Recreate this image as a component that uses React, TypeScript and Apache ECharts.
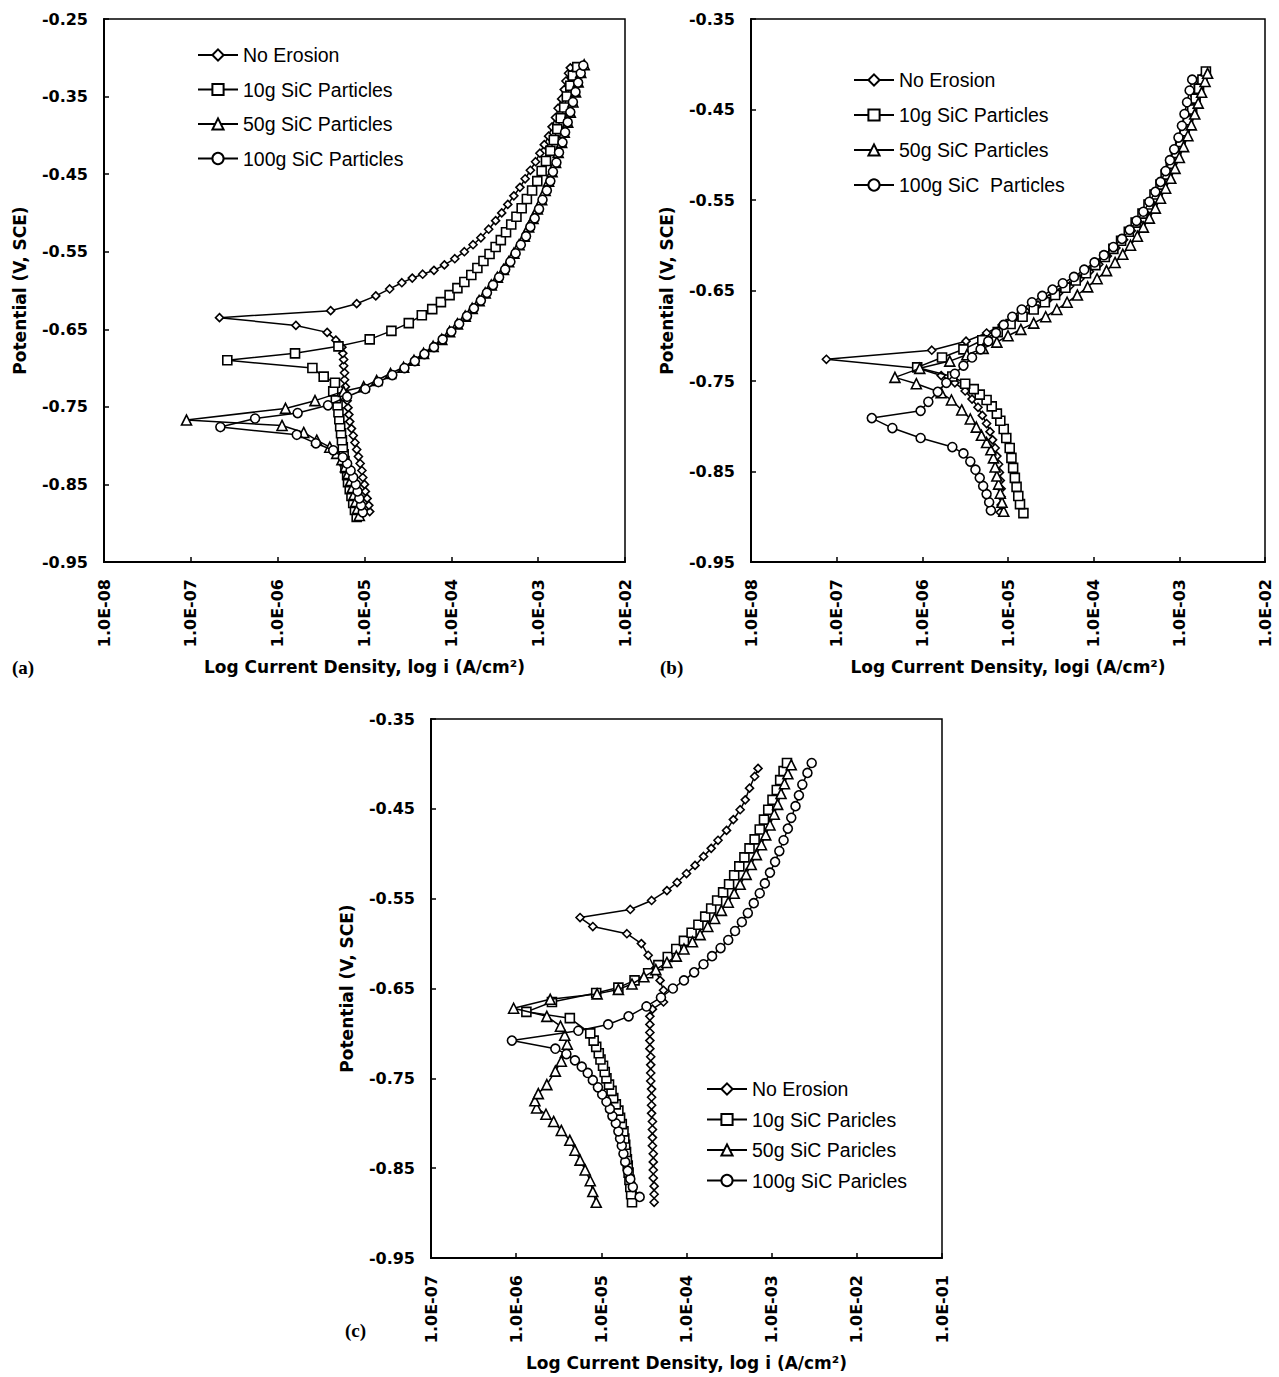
import React, { useEffect, useRef } from 'react';
import * as echarts from 'echarts';

type Pt = [number, number];

// ---- axis ranges and labels ----
const xRangeA = [-8, -2];
const xRangeB = [-8, -2];
const xRangeC = [-7, -1];
const yRangeA = [-0.95, -0.25];
const yRangeB = [-0.95, -0.35];
const yRangeC = [-0.95, -0.35];

const namesA = ['No Erosion', '10g SiC Particles', '50g SiC Particles', '100g SiC Particles'];
const namesB = ['No Erosion', '10g SiC Particles', '50g SiC Particles', '100g SiC  Particles'];
const namesC = ['No Erosion', '10g SiC Paricles', '50g SiC Paricles', '100g SiC Paricles'];

const xTitleA = 'Log Current Density, log i (A/cm²)';
const xTitleB = 'Log Current Density, logi (A/cm²)';
const xTitleC = 'Log Current Density, log i (A/cm²)';
const yTitle = 'Potential (V, SCE)';

// ---- data: [log i (A/cm2), potential (V, SCE)] in scan order ----
// Panel (a)
const noErosionA: Pt[] = [[-4.94,-0.885],[-4.95,-0.877],[-4.97,-0.868],[-4.99,-0.859],[-5.00,-0.850],[-5.02,-0.841],[-5.03,-0.832],[-5.05,-0.823],[-5.07,-0.814],[-5.09,-0.805],[-5.11,-0.796],[-5.13,-0.787],[-5.15,-0.778],[-5.17,-0.769],[-5.18,-0.760],[-5.19,-0.751],[-5.20,-0.742],[-5.21,-0.733],[-5.22,-0.724],[-5.23,-0.715],[-5.23,-0.706],[-5.24,-0.697],[-5.24,-0.689],[-5.25,-0.681],[-5.26,-0.673],[-5.33,-0.664],[-5.43,-0.654],[-5.79,-0.645],[-6.67,-0.635],[-5.39,-0.626],[-5.09,-0.617],[-4.87,-0.607],[-4.71,-0.598],[-4.57,-0.590],[-4.45,-0.584],[-4.33,-0.579],[-4.20,-0.574],[-4.08,-0.567],[-3.96,-0.559],[-3.85,-0.550],[-3.75,-0.541],[-3.66,-0.532],[-3.57,-0.521],[-3.49,-0.510],[-3.42,-0.500],[-3.35,-0.489],[-3.28,-0.478],[-3.21,-0.467],[-3.15,-0.456],[-3.09,-0.445],[-3.03,-0.434],[-2.98,-0.423],[-2.93,-0.412],[-2.88,-0.401],[-2.84,-0.389],[-2.80,-0.377],[-2.77,-0.365],[-2.73,-0.353],[-2.70,-0.341],[-2.68,-0.330],[-2.65,-0.320],[-2.63,-0.313]];
const sic10A: Pt[] = [[-5.09,-0.892],[-5.11,-0.883],[-5.13,-0.874],[-5.15,-0.865],[-5.17,-0.856],[-5.19,-0.847],[-5.20,-0.838],[-5.22,-0.829],[-5.23,-0.820],[-5.24,-0.811],[-5.25,-0.802],[-5.26,-0.793],[-5.27,-0.784],[-5.28,-0.775],[-5.29,-0.766],[-5.30,-0.757],[-5.31,-0.748],[-5.33,-0.739],[-5.36,-0.730],[-5.34,-0.719],[-5.47,-0.711],[-5.60,-0.700],[-6.58,-0.690],[-5.80,-0.681],[-5.30,-0.672],[-4.94,-0.663],[-4.69,-0.652],[-4.49,-0.642],[-4.34,-0.632],[-4.22,-0.624],[-4.12,-0.615],[-4.02,-0.606],[-3.93,-0.597],[-3.85,-0.589],[-3.77,-0.580],[-3.70,-0.571],[-3.63,-0.562],[-3.56,-0.553],[-3.49,-0.544],[-3.43,-0.535],[-3.37,-0.525],[-3.31,-0.515],[-3.25,-0.505],[-3.19,-0.494],[-3.13,-0.482],[-3.07,-0.471],[-3.01,-0.459],[-2.96,-0.446],[-2.91,-0.433],[-2.86,-0.420],[-2.82,-0.406],[-2.78,-0.392],[-2.74,-0.378],[-2.70,-0.364],[-2.67,-0.350],[-2.63,-0.336],[-2.60,-0.323],[-2.55,-0.312]];
const sic50A: Pt[] = [[-5.06,-0.890],[-5.08,-0.881],[-5.10,-0.872],[-5.12,-0.863],[-5.14,-0.854],[-5.16,-0.845],[-5.19,-0.836],[-5.22,-0.827],[-5.26,-0.818],[-5.32,-0.810],[-5.40,-0.802],[-5.55,-0.793],[-5.70,-0.783],[-5.95,-0.774],[-7.05,-0.767],[-5.91,-0.752],[-5.57,-0.742],[-5.24,-0.730],[-5.01,-0.724],[-4.86,-0.716],[-4.70,-0.707],[-4.55,-0.699],[-4.43,-0.690],[-4.32,-0.681],[-4.21,-0.672],[-4.11,-0.663],[-4.02,-0.653],[-3.93,-0.643],[-3.84,-0.633],[-3.76,-0.623],[-3.68,-0.613],[-3.61,-0.603],[-3.54,-0.593],[-3.47,-0.583],[-3.40,-0.573],[-3.34,-0.563],[-3.28,-0.552],[-3.22,-0.541],[-3.16,-0.530],[-3.11,-0.518],[-3.06,-0.507],[-3.01,-0.495],[-2.96,-0.483],[-2.92,-0.471],[-2.88,-0.459],[-2.84,-0.447],[-2.80,-0.435],[-2.77,-0.422],[-2.73,-0.409],[-2.70,-0.396],[-2.66,-0.383],[-2.63,-0.370],[-2.60,-0.357],[-2.57,-0.344],[-2.54,-0.331],[-2.51,-0.319],[-2.47,-0.309]];
const sic100A: Pt[] = [[-5.02,-0.886],[-5.04,-0.877],[-5.06,-0.868],[-5.08,-0.859],[-5.10,-0.850],[-5.13,-0.841],[-5.16,-0.832],[-5.20,-0.823],[-5.25,-0.815],[-5.36,-0.806],[-5.56,-0.797],[-5.78,-0.786],[-6.66,-0.776],[-6.26,-0.765],[-5.77,-0.758],[-5.42,-0.748],[-5.20,-0.737],[-4.99,-0.727],[-4.84,-0.718],[-4.68,-0.709],[-4.54,-0.700],[-4.42,-0.691],[-4.31,-0.682],[-4.20,-0.673],[-4.10,-0.663],[-4.00,-0.653],[-3.91,-0.643],[-3.82,-0.633],[-3.74,-0.623],[-3.66,-0.613],[-3.59,-0.603],[-3.52,-0.593],[-3.45,-0.583],[-3.38,-0.573],[-3.32,-0.563],[-3.26,-0.552],[-3.20,-0.541],[-3.14,-0.530],[-3.09,-0.518],[-3.04,-0.507],[-2.99,-0.495],[-2.95,-0.483],[-2.90,-0.471],[-2.86,-0.459],[-2.83,-0.447],[-2.79,-0.435],[-2.76,-0.422],[-2.72,-0.409],[-2.69,-0.396],[-2.66,-0.383],[-2.63,-0.370],[-2.60,-0.357],[-2.57,-0.344],[-2.54,-0.332],[-2.51,-0.320],[-2.48,-0.310]];

// Panel (b)
const noErosionB: Pt[] = [[-5.09,-0.895],[-5.08,-0.887],[-5.08,-0.878],[-5.08,-0.869],[-5.09,-0.860],[-5.10,-0.851],[-5.11,-0.842],[-5.13,-0.833],[-5.15,-0.824],[-5.18,-0.815],[-5.21,-0.806],[-5.25,-0.797],[-5.30,-0.788],[-5.35,-0.779],[-5.42,-0.770],[-5.50,-0.761],[-5.62,-0.752],[-5.78,-0.744],[-6.05,-0.736],[-7.12,-0.726],[-5.89,-0.716],[-5.49,-0.706],[-5.25,-0.697],[-5.07,-0.688],[-4.93,-0.680],[-4.79,-0.673],[-4.65,-0.666],[-4.52,-0.659],[-4.40,-0.652],[-4.28,-0.645],[-4.16,-0.637],[-4.05,-0.629],[-3.94,-0.621],[-3.84,-0.612],[-3.74,-0.603],[-3.65,-0.594],[-3.56,-0.584],[-3.48,-0.574],[-3.40,-0.564],[-3.33,-0.553],[-3.26,-0.542],[-3.20,-0.531],[-3.14,-0.519],[-3.08,-0.507],[-3.03,-0.495],[-2.98,-0.483],[-2.94,-0.471],[-2.90,-0.459],[-2.86,-0.447],[-2.82,-0.435],[-2.78,-0.424],[-2.74,-0.415]];
const sic10B: Pt[] = [[-4.82,-0.896],[-4.86,-0.886],[-4.88,-0.877],[-4.90,-0.867],[-4.92,-0.857],[-4.94,-0.846],[-4.96,-0.835],[-4.98,-0.824],[-5.02,-0.813],[-5.05,-0.803],[-5.09,-0.794],[-5.13,-0.786],[-5.19,-0.778],[-5.25,-0.771],[-5.33,-0.765],[-5.40,-0.759],[-5.50,-0.753],[-5.65,-0.745],[-6.06,-0.735],[-5.77,-0.724],[-5.52,-0.715],[-5.30,-0.705],[-5.12,-0.696],[-4.97,-0.687],[-4.83,-0.679],[-4.70,-0.671],[-4.57,-0.663],[-4.45,-0.655],[-4.33,-0.647],[-4.21,-0.639],[-4.09,-0.631],[-3.98,-0.622],[-3.87,-0.613],[-3.77,-0.604],[-3.68,-0.595],[-3.59,-0.585],[-3.51,-0.575],[-3.43,-0.565],[-3.36,-0.555],[-3.29,-0.544],[-3.22,-0.533],[-3.16,-0.522],[-3.10,-0.510],[-3.04,-0.498],[-2.99,-0.486],[-2.94,-0.474],[-2.90,-0.462],[-2.85,-0.450],[-2.81,-0.438],[-2.77,-0.427],[-2.73,-0.417],[-2.69,-0.408]];
const sic50B: Pt[] = [[-5.05,-0.894],[-5.07,-0.884],[-5.09,-0.874],[-5.11,-0.864],[-5.13,-0.855],[-5.15,-0.845],[-5.17,-0.835],[-5.20,-0.826],[-5.25,-0.818],[-5.31,-0.810],[-5.37,-0.801],[-5.44,-0.792],[-5.54,-0.782],[-5.66,-0.771],[-5.78,-0.763],[-6.07,-0.753],[-6.32,-0.746],[-6.03,-0.736],[-5.68,-0.728],[-5.48,-0.721],[-5.29,-0.714],[-5.13,-0.707],[-5.00,-0.700],[-4.85,-0.693],[-4.70,-0.686],[-4.56,-0.679],[-4.43,-0.671],[-4.31,-0.663],[-4.19,-0.655],[-4.07,-0.646],[-3.96,-0.637],[-3.85,-0.628],[-3.75,-0.619],[-3.66,-0.610],[-3.57,-0.600],[-3.49,-0.590],[-3.42,-0.580],[-3.35,-0.570],[-3.28,-0.559],[-3.22,-0.548],[-3.16,-0.537],[-3.10,-0.526],[-3.05,-0.515],[-3.00,-0.503],[-2.95,-0.491],[-2.90,-0.479],[-2.86,-0.467],[-2.82,-0.455],[-2.78,-0.443],[-2.74,-0.431],[-2.70,-0.419],[-2.67,-0.410]];
const sic100B: Pt[] = [[-5.20,-0.893],[-5.22,-0.884],[-5.25,-0.875],[-5.29,-0.866],[-5.33,-0.857],[-5.38,-0.848],[-5.44,-0.839],[-5.52,-0.830],[-5.65,-0.823],[-6.02,-0.813],[-6.35,-0.802],[-6.59,-0.791],[-6.02,-0.783],[-5.93,-0.773],[-5.82,-0.762],[-5.72,-0.752],[-5.62,-0.742],[-5.52,-0.733],[-5.42,-0.724],[-5.32,-0.715],[-5.23,-0.706],[-5.14,-0.697],[-5.05,-0.688],[-4.95,-0.679],[-4.84,-0.671],[-4.72,-0.663],[-4.60,-0.656],[-4.48,-0.649],[-4.36,-0.642],[-4.23,-0.635],[-4.11,-0.627],[-3.99,-0.619],[-3.88,-0.611],[-3.77,-0.602],[-3.67,-0.593],[-3.58,-0.583],[-3.50,-0.573],[-3.42,-0.563],[-3.35,-0.552],[-3.28,-0.541],[-3.22,-0.530],[-3.16,-0.518],[-3.11,-0.506],[-3.06,-0.494],[-3.01,-0.481],[-2.97,-0.468],[-2.94,-0.455],[-2.91,-0.442],[-2.88,-0.429],[-2.85,-0.417]];

// Panel (c)
const noErosionC: Pt[] = [[-4.38,-0.888],[-4.38,-0.879],[-4.38,-0.870],[-4.39,-0.861],[-4.39,-0.852],[-4.39,-0.843],[-4.39,-0.834],[-4.40,-0.825],[-4.40,-0.816],[-4.40,-0.807],[-4.40,-0.798],[-4.41,-0.789],[-4.41,-0.780],[-4.41,-0.771],[-4.41,-0.762],[-4.42,-0.753],[-4.42,-0.744],[-4.42,-0.735],[-4.42,-0.726],[-4.43,-0.717],[-4.43,-0.708],[-4.43,-0.699],[-4.43,-0.690],[-4.43,-0.681],[-4.40,-0.673],[-4.27,-0.665],[-4.27,-0.652],[-4.31,-0.641],[-4.37,-0.628],[-4.45,-0.613],[-4.53,-0.600],[-4.70,-0.589],[-5.10,-0.581],[-5.25,-0.571],[-4.66,-0.562],[-4.41,-0.552],[-4.23,-0.541],[-4.11,-0.532],[-4.00,-0.522],[-3.90,-0.513],[-3.80,-0.503],[-3.71,-0.494],[-3.63,-0.485],[-3.53,-0.474],[-3.45,-0.462],[-3.37,-0.451],[-3.31,-0.440],[-3.26,-0.427],[-3.20,-0.414],[-3.16,-0.405]];
const sic10C: Pt[] = [[-4.64,-0.888],[-4.65,-0.879],[-4.66,-0.871],[-4.67,-0.863],[-4.68,-0.855],[-4.69,-0.847],[-4.70,-0.840],[-4.71,-0.832],[-4.72,-0.824],[-4.73,-0.817],[-4.74,-0.809],[-4.76,-0.801],[-4.78,-0.794],[-4.80,-0.786],[-4.83,-0.779],[-4.86,-0.772],[-4.88,-0.764],[-4.91,-0.757],[-4.94,-0.750],[-4.96,-0.743],[-4.98,-0.736],[-5.01,-0.729],[-5.03,-0.722],[-5.06,-0.715],[-5.09,-0.708],[-5.13,-0.700],[-5.37,-0.683],[-5.88,-0.676],[-5.58,-0.665],[-5.06,-0.655],[-4.80,-0.649],[-4.61,-0.641],[-4.45,-0.633],[-4.33,-0.624],[-4.22,-0.615],[-4.12,-0.606],[-4.03,-0.597],[-3.94,-0.588],[-3.86,-0.579],[-3.78,-0.570],[-3.71,-0.561],[-3.64,-0.552],[-3.57,-0.543],[-3.50,-0.534],[-3.44,-0.524],[-3.38,-0.514],[-3.32,-0.504],[-3.26,-0.494],[-3.20,-0.484],[-3.14,-0.473],[-3.09,-0.462],[-3.04,-0.451],[-2.99,-0.440],[-2.94,-0.429],[-2.90,-0.418],[-2.86,-0.408],[-2.82,-0.399]];
const sic50C: Pt[] = [[-5.06,-0.888],[-5.10,-0.876],[-5.13,-0.864],[-5.19,-0.852],[-5.25,-0.841],[-5.31,-0.830],[-5.37,-0.819],[-5.47,-0.808],[-5.56,-0.798],[-5.65,-0.790],[-5.76,-0.783],[-5.78,-0.775],[-5.74,-0.767],[-5.64,-0.757],[-5.54,-0.742],[-5.47,-0.731],[-5.42,-0.721],[-5.40,-0.712],[-5.43,-0.702],[-5.48,-0.692],[-5.64,-0.681],[-6.03,-0.672],[-5.60,-0.662],[-5.05,-0.656],[-4.80,-0.651],[-4.64,-0.645],[-4.50,-0.637],[-4.36,-0.629],[-4.23,-0.621],[-4.12,-0.614],[-4.03,-0.606],[-3.93,-0.598],[-3.84,-0.590],[-3.75,-0.581],[-3.67,-0.572],[-3.59,-0.563],[-3.51,-0.554],[-3.44,-0.544],[-3.37,-0.534],[-3.30,-0.523],[-3.24,-0.512],[-3.18,-0.501],[-3.12,-0.490],[-3.07,-0.479],[-3.02,-0.468],[-2.97,-0.456],[-2.93,-0.445],[-2.89,-0.433],[-2.85,-0.422],[-2.81,-0.411],[-2.77,-0.401]];
const sic100C: Pt[] = [[-4.55,-0.882],[-4.63,-0.871],[-4.66,-0.862],[-4.69,-0.853],[-4.72,-0.843],[-4.74,-0.834],[-4.76,-0.825],[-4.78,-0.817],[-4.80,-0.809],[-4.83,-0.800],[-4.87,-0.792],[-4.90,-0.784],[-4.94,-0.776],[-4.99,-0.768],[-5.04,-0.760],[-5.10,-0.752],[-5.16,-0.744],[-5.23,-0.737],[-5.31,-0.730],[-5.41,-0.723],[-5.54,-0.717],[-6.05,-0.708],[-5.27,-0.697],[-4.92,-0.690],[-4.68,-0.681],[-4.47,-0.670],[-4.30,-0.660],[-4.16,-0.650],[-4.03,-0.641],[-3.91,-0.632],[-3.80,-0.623],[-3.70,-0.614],[-3.60,-0.605],[-3.51,-0.596],[-3.43,-0.586],[-3.35,-0.576],[-3.28,-0.566],[-3.21,-0.555],[-3.14,-0.544],[-3.08,-0.533],[-3.02,-0.521],[-2.96,-0.509],[-2.91,-0.497],[-2.86,-0.485],[-2.81,-0.472],[-2.77,-0.460],[-2.72,-0.447],[-2.68,-0.435],[-2.64,-0.423],[-2.58,-0.410],[-2.53,-0.399]];

const symbols = ['diamond', 'rect', 'triangle', 'circle'];
const symbolSizes = [8, 9, 10, 9];

const fmtX = (v: number) => {
  const e = Math.round(v);
  return '1.0E' + (e < 0 ? '-' : '+') + String(Math.abs(e)).padStart(2, '0');
};

export default function App() {
  const ref = useRef<HTMLDivElement>(null);
  useEffect(() => {
    const chart = echarts.init(ref.current!, null, { renderer: 'svg' });
    const gridBoxes = [
      { left: 104, top: 19, width: 521, height: 543 },
      { left: 751, top: 19, width: 514, height: 543 },
      { left: 431, top: 719, width: 511, height: 539 },
    ];
    const tickFont = { fontFamily: 'DejaVu Sans', fontWeight: 'bold' as const, fontSize: 16, color: '#000' };
    const xRanges = [xRangeA, xRangeB, xRangeC];
    const yRanges = [yRangeA, yRangeB, yRangeC];
    const xAxis = xRanges.map((r, i) => ({
      type: 'value', gridIndex: i, min: r[0], max: r[1], interval: 1,
      axisLine: { show: true, onZero: false, lineStyle: { color: '#000', width: 2 } },
      axisTick: { show: true, inside: true, length: 5, lineStyle: { color: '#000', width: 1.5 } },
      splitLine: { show: false },
      axisLabel: { ...tickFont, rotate: 90, margin: 17, formatter: fmtX },
    }));
    const yAxis = yRanges.map((r, i) => ({
      type: 'value', gridIndex: i, min: r[0], max: r[1], interval: 0.1,
      axisLine: { show: true, onZero: false, lineStyle: { color: '#000', width: 2 } },
      axisTick: { show: true, inside: true, length: 5, lineStyle: { color: '#000', width: 1.5 } },
      splitLine: { show: false },
      axisLabel: { ...tickFont, margin: 16, formatter: (v: number) => v.toFixed(2) },
    }));
    const panels: { names: string[]; data: Pt[][] }[] = [
      { names: namesA, data: [noErosionA, sic10A, sic50A, sic100A] },
      { names: namesB, data: [noErosionB, sic10B, sic50B, sic100B] },
      { names: namesC, data: [noErosionC, sic10C, sic50C, sic100C] },
    ];
    const series: any[] = [];
    panels.forEach((p, pi) => {
      p.data.forEach((d, si) => {
        series.push({
          type: 'line', name: p.names[si], data: d,
          xAxisIndex: pi, yAxisIndex: pi,
          symbol: symbols[si], symbolSize: symbolSizes[si], showSymbol: true,
          lineStyle: { color: '#000', width: 1.5 },
          itemStyle: { color: '#fff', borderColor: '#000', borderWidth: 1.6 },
          emphasis: { disabled: true }, silent: true, z: 2 + si,
        });
      });
    });
    const legendBase = {
      orient: 'vertical', itemWidth: 40, itemHeight: 14, padding: 0, selectedMode: false,
      textStyle: { fontFamily: 'Liberation Sans', fontSize: 19.5, color: '#000', lineHeight: 20 },
    };
    const legend = [
      { ...legendBase, left: 197, top: 45, itemGap: 14.5, data: namesA },
      { ...legendBase, left: 853, top: 70, itemGap: 15, data: namesB },
      { ...legendBase, left: 706, top: 1079, itemGap: 10.5, data: namesC },
    ];
    const titleFont = 'bold 17px "DejaVu Sans"';
    const labelFont = 'bold 19px "Liberation Serif"';
    const txt = (text: string, x: number, y: number, font: string, rot = 0, align = 'center') => ({
      type: 'text', x, y, rotation: rot, silent: true,
      style: { text, font, fill: '#000', align, verticalAlign: 'middle' },
    });
    const graphic = [
      txt(yTitle, 20, 290.5, titleFont, Math.PI / 2),
      txt(yTitle, 667, 290.5, titleFont, Math.PI / 2),
      txt(yTitle, 347, 988.5, titleFont, Math.PI / 2),
      txt(xTitleA, 364.5, 667, titleFont),
      txt(xTitleB, 1008, 667, titleFont),
      txt(xTitleC, 686.5, 1363, titleFont),
      txt('(a)', 12, 667, labelFont, 0, 'left'),
      txt('(b)', 660, 667, labelFont, 0, 'left'),
      txt('(c)', 345, 1330, labelFont, 0, 'left'),
    ];
    chart.setOption({
      animation: false,
      backgroundColor: '#fff',
      grid: gridBoxes.map(g => ({ ...g, show: true, borderColor: '#000', borderWidth: 1.5, backgroundColor: 'transparent', containLabel: false, outerBoundsMode: 'none' })),
      xAxis, yAxis, series, legend, graphic,
      tooltip: { show: false },
    });
    return () => chart.dispose();
  }, []);
  return <div ref={ref} style={{ position: 'absolute', left: 0, top: 0, width: 1279, height: 1377, background: '#fff' }} />;
}
